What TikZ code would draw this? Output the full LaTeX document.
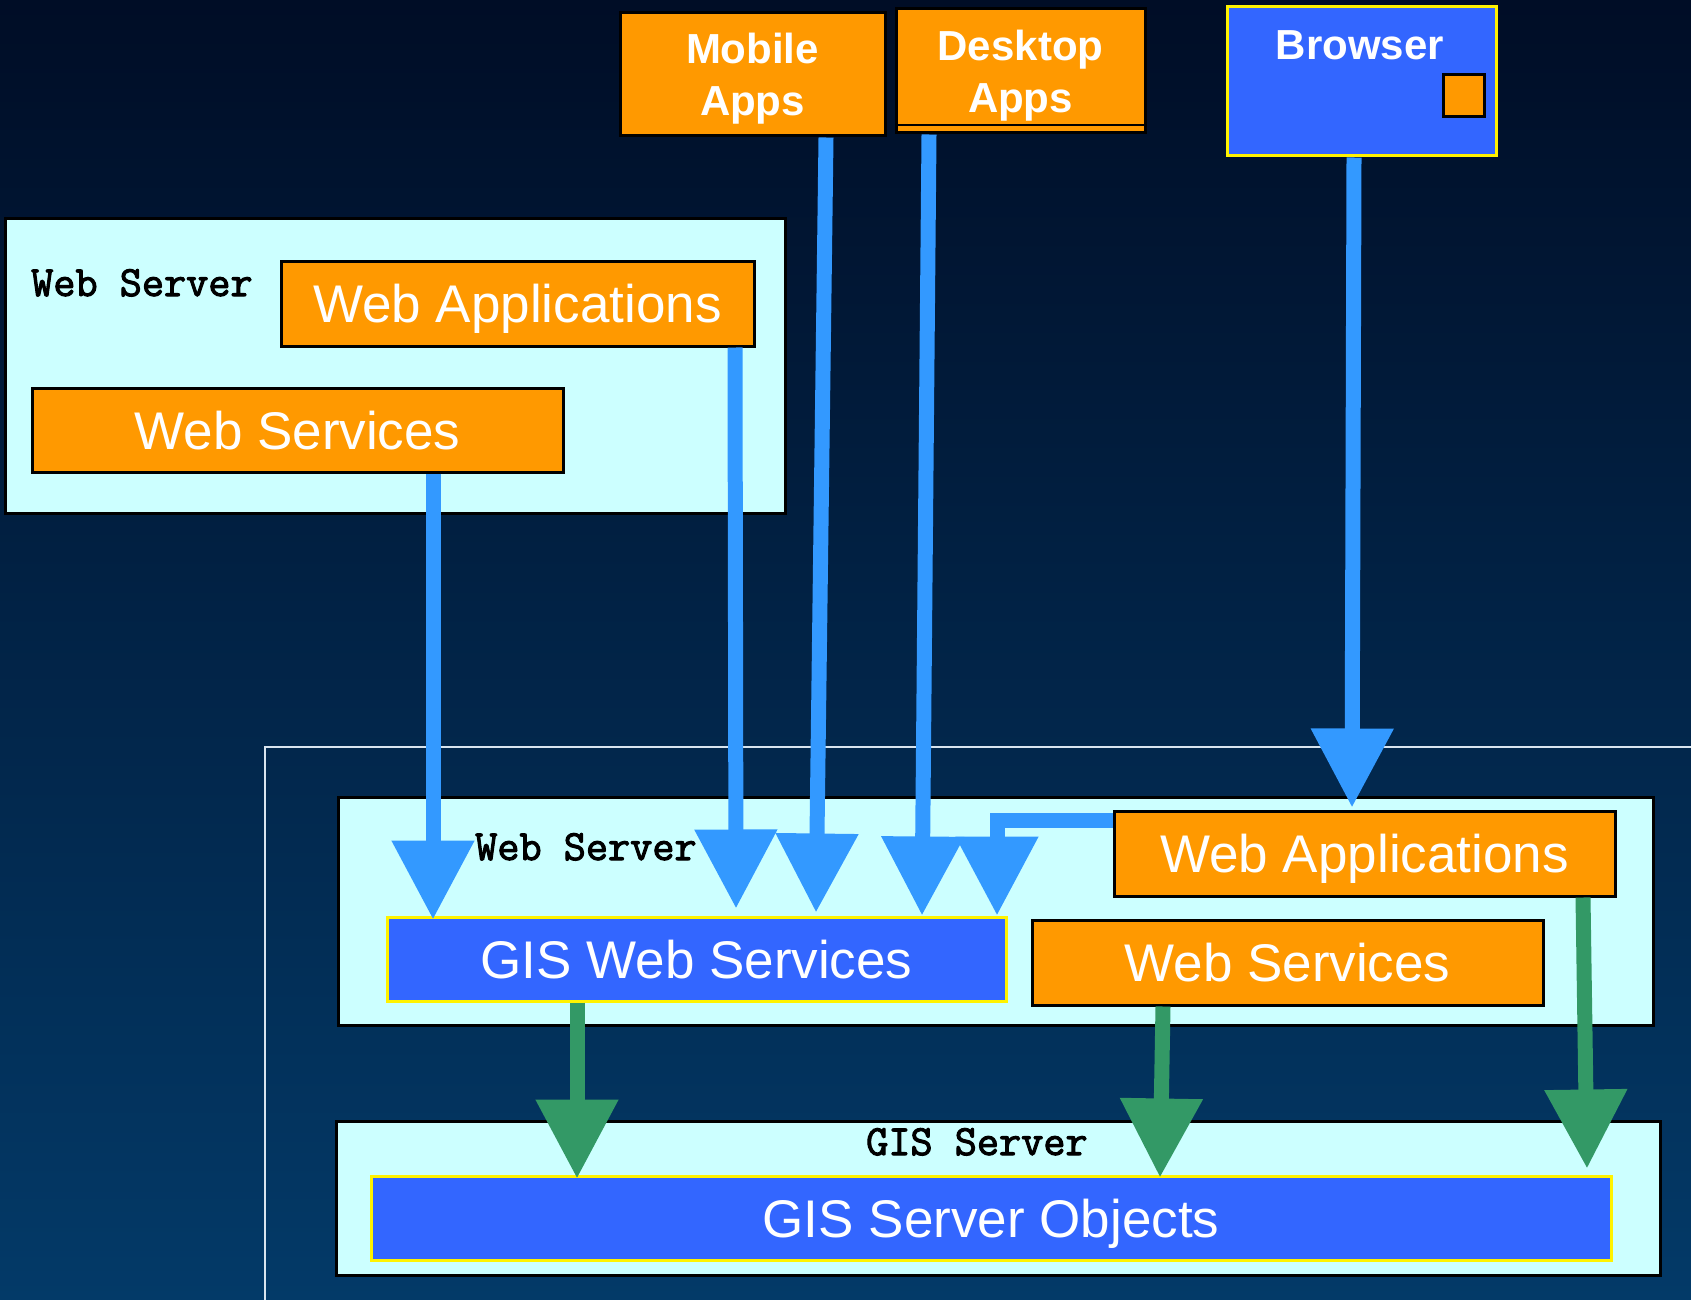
\documentclass[tikz,border=0pt]{standalone}
\usepackage{fontspec}
\setmainfont{Liberation Sans}
\newfontfamily\tiermono[FakeBold=2.5]{Latin Modern Mono}
\usetikzlibrary{arrows.meta}

\definecolor{skytop}{HTML}{000D26}
\definecolor{skybottom}{HTML}{033A68}
\definecolor{tierfill}{HTML}{CCFFFF}
\definecolor{orangefill}{HTML}{FF9900}
\definecolor{bluefill}{HTML}{3366FF}
\definecolor{flowblue}{HTML}{3399FF}
\definecolor{flowgreen}{HTML}{339966}
\definecolor{framegray}{HTML}{D8E4EE}

\tikzset{
  box/.style={draw, rectangle, inner sep=0pt, line width=3pt, anchor=center},
  tier/.style={box, fill=tierfill, draw=black},
  bigtext/.style={text=white, font=\fontsize{53}{60}\selectfont, text height=38pt, text depth=0pt},
  comp/.style={box, fill=orangefill, draw=black, bigtext},
  gis/.style={box, fill=bluefill, draw=yellow, bigtext},
  client/.style={box, fill=orangefill, draw=black},
  clientlabel/.style={text=white, align=center, inner sep=0pt,
    font=\bfseries\fontsize{42}{52}\selectfont},
  tierlabel/.style={anchor=base west, inner sep=0pt,
    font=\tiermono\fontsize{43}{45}\selectfont},
  flow/.style={line width=15pt, -{Triangle[width=79pt,length=79pt]}},
  blueflow/.style={flow, draw=flowblue},
  greenflow/.style={flow, draw=flowgreen},
}

\begin{document}
\begin{tikzpicture}[x=1pt, y=-1pt]
  % canvas and background
  \useasboundingbox (0,0) rectangle (1691,1300);
  \shade[top color=skytop, bottom color=skybottom] (0,0) rectangle (1691,1300);

  % outer frame of the server side
  \draw[framegray, line width=2.5pt] (265,1310) |- (1700,747);

  % clients
  \node[client, minimum width=265, minimum height=123] (mobile) at (752.5,74.5) {};
  \node[clientlabel] (mobiletext) at ([yshift=-4.5pt]mobile.center) {Mobile\\Apps};
  \node[client, minimum width=249, minimum height=124] (desktop) at (1020.5,71) {};
  \node[clientlabel] (desktoptext) at ([yshift=-4.5pt]desktop.center) {Desktop\\Apps};
  \draw[line width=2pt] ([yshift=9pt]desktop.south west) -- ([yshift=9pt]desktop.south east);
  \node[box, fill=bluefill, draw=yellow, minimum width=269, minimum height=149] (browser) at (1361.5,81.5) {};
  \node[text=white, inner sep=0pt, font=\bfseries\fontsize{42}{50}\selectfont, text height=30pt, text depth=0pt]
    (browsertitle) at (1360,45) {Browser};
  \node[box, fill=orangefill, draw=black, minimum width=41, minimum height=42] (plugin) at (1463.5,95.5) {};

  % upper web server
  \node[tier, minimum width=780, minimum height=295] (websrvA) at (395,365.5) {};
  \node[tierlabel] (websrvAlabel) at (31,296) {Web Server};
  \node[comp, minimum width=473, minimum height=85] (webappA) at (517.5,303.5) {Web Applications};
  \node[comp, minimum width=531, minimum height=84] (websvcA) at (297.5,430) {Web Services};

  % lower web server
  \node[tier, minimum width=1315, minimum height=228] (websrvB) at (995.5,911) {};
  \node[tierlabel] (websrvBlabel) at (475,860) {Web Server};
  \node[gis, minimum width=619, minimum height=84] (gisweb) at (696.5,959) {GIS Web Services};
  \node[comp, minimum width=501, minimum height=85] (webappB) at (1364.5,853.5) {Web Applications};
  \node[comp, minimum width=511, minimum height=85] (websvcB) at (1287.5,962.5) {Web Services};

  % GIS server
  \node[tier, minimum width=1324, minimum height=154] (gissrv) at (998,1198) {};
  \node[tierlabel] (gissrvlabel) at (866,1155) {GIS Server};
  \node[gis, minimum width=1240, minimum height=84] (gisobj) at (991,1218) {GIS Server Objects};

  % requests into the GIS web services
  \draw[blueflow] ([xshift=135.5pt]websvcA.south) -- ([xshift=-263.5pt,yshift=-4pt]gisweb.north);
  \draw[blueflow] ([xshift=217.5pt]webappA.south) -- ([xshift=39.5pt,yshift=7pt]gisweb.north);
  \draw[blueflow] ([xshift=73.5pt]mobile.south) -- ([xshift=119.5pt,yshift=3pt]gisweb.north);
  \draw[blueflow] ([xshift=-91.5pt]desktop.south) -- ([xshift=225.5pt]gisweb.north);
  \draw[blueflow] ([yshift=33.5pt]webappB.west) -| ([xshift=300.5pt]gisweb.north);
  \draw[blueflow] ([xshift=-7.5pt]browser.south) -- ([xshift=-12.5pt,yshift=2pt]webappB.north);

  % requests into the GIS server objects
  \draw[greenflow] ([xshift=-119.5pt]gisweb.south) -- ([xshift=-414pt,yshift=-4pt]gisobj.north);
  \draw[greenflow] ([xshift=-124.5pt]websvcB.south) -- ([xshift=169pt,yshift=-3pt]gisobj.north);
  \draw[greenflow] ([xshift=218.5pt]webappB.south) -- ([xshift=596pt,yshift=6pt]gisobj.north);
\end{tikzpicture}
\end{document}
